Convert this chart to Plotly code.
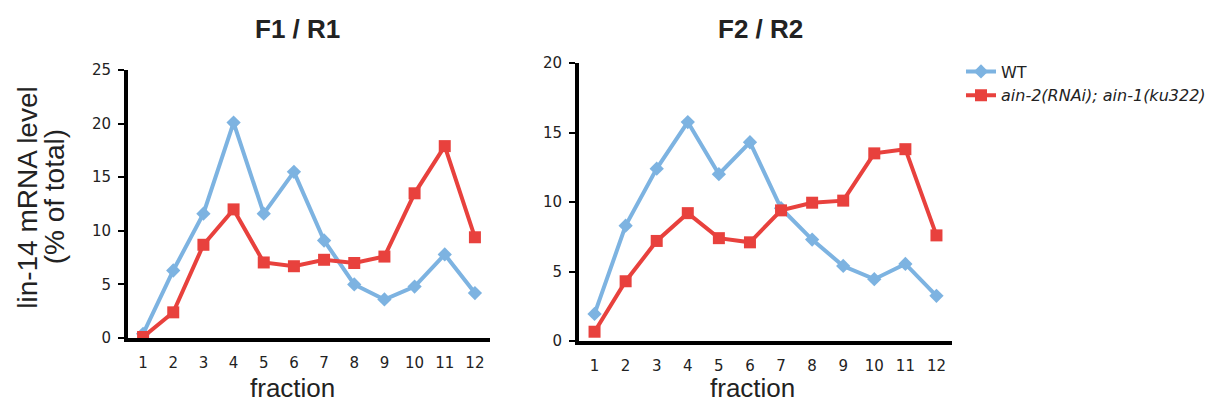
import plotly.graph_objects as go

fractions = list(range(1, 13))
fraction_labels = [str(i) for i in fractions]

wt_r1 = [0.4, 6.3, 11.6, 20.1, 11.6, 15.5, 9.1, 5.0, 3.6, 4.8, 7.8, 4.2]
mut_r1 = [0.1, 2.4, 8.7, 12.0, 7.05, 6.7, 7.3, 7.0, 7.6, 13.5, 17.9, 9.4]
wt_r2 = [1.95, 8.3, 12.4, 15.75, 12.0, 14.3, 9.55, 7.3, 5.4, 4.45, 5.55, 3.25]
mut_r2 = [0.67, 4.3, 7.2, 9.2, 7.4, 7.1, 9.4, 9.95, 10.1, 13.5, 13.8, 7.6]

names = ["WT", "<i>ain-2(RNAi); ain-1(ku322)</i>"]
blue = "#7DB3E1"
red = "#E8413D"

W, H = 1215, 407

fig = go.Figure()

def add_pair(wt, mut, xa, ya, show):
    fig.add_trace(go.Scatter(x=fractions, y=wt, mode="lines+markers", name=names[0],
                             line=dict(color=blue, width=4),
                             marker=dict(symbol="diamond", size=11, color=blue),
                             xaxis=xa, yaxis=ya, showlegend=show))
    fig.add_trace(go.Scatter(x=fractions, y=mut, mode="lines+markers", name=names[1],
                             line=dict(color=red, width=4),
                             marker=dict(symbol="square", size=12, color=red),
                             xaxis=xa, yaxis=ya, showlegend=show))

add_pair(wt_r1, mut_r1, "x", "y", True)
add_pair(wt_r2, mut_r2, "x2", "y2", False)

tickfont = dict(family="DejaVu Sans", size=15, color="#222")
xcommon = dict(range=[0.5, 12.5], tickvals=fractions, ticktext=fraction_labels,
               showline=True, linecolor="black", linewidth=4, ticks="",
               showgrid=False, zeroline=False, tickfont=tickfont,
               ticklabelstandoff=8)
ycommon = dict(showline=True, linecolor="black", linewidth=4, ticks="outside",
               ticklen=6, tickwidth=2, tickcolor="black", showgrid=False,
               zeroline=False, tickfont=tickfont, dtick=5, ticklabelstandoff=4)

fig.update_layout(
    width=W, height=H,
    margin=dict(l=0, r=0, t=0, b=0),
    paper_bgcolor="white", plot_bgcolor="white",
    xaxis=dict(domain=[128/W, 490/W], anchor="y", **xcommon),
    yaxis=dict(domain=[1-344.3/H, 1-63.8/H], anchor="x", range=[0, 25], **ycommon),
    xaxis2=dict(domain=[579/W, 952/W], anchor="y2", **xcommon),
    yaxis2=dict(domain=[1-347.4/H, 1-56.5/H], anchor="x2", range=[0, 20], **ycommon),
    legend=dict(x=961/W, y=1-47.6/H, xanchor="left", yanchor="top",
                font=dict(family="DejaVu Sans", size=16, color="#222"),
                tracegroupgap=0, bgcolor="rgba(0,0,0,0)"),
    showlegend=True,
)

ann_font = dict(family="Liberation Sans", size=26, color="#222")
fig.add_annotation(text="<b>F1 / R1</b>", x=297/W, y=1-20.5/H, xref="paper", yref="paper",
                   showarrow=False, font=ann_font, xanchor="center", yanchor="middle")
fig.add_annotation(text="<b>F2 / R2</b>", x=760/W, y=1-20.5/H, xref="paper", yref="paper",
                   showarrow=False, font=ann_font, xanchor="center", yanchor="middle")
for txt, cx in (("lin-14 mRNA level", 27.5), ("(% of total)", 54)):
    fig.add_annotation(text=txt, x=cx/W, y=1-197/H,
                       xref="paper", yref="paper", showarrow=False, textangle=-90,
                       font=dict(family="Liberation Sans", size=28, color="#222"),
                       xanchor="center", yanchor="middle")
for cx in (292, 752):
    fig.add_annotation(text="fraction", x=cx/W, y=1-397/H, xref="paper", yref="paper",
                       showarrow=False, font=dict(family="Liberation Sans", size=26, color="#222"),
                       xanchor="center", yanchor="middle")

fig.write_html("out.html", config={"displayModeBar": False})

with open("out.html", "r", encoding="utf-8") as f:
    html = f.read()
css = ("<style>html,body{margin:0;padding:0;overflow:hidden;width:1215px;height:407px;}"
       ".plotly-graph-div{position:absolute !important;top:0;left:0;}</style>")
html = html.replace("<body>", "<body>" + css, 1)
with open("out.html", "w", encoding="utf-8") as f:
    f.write(html)
